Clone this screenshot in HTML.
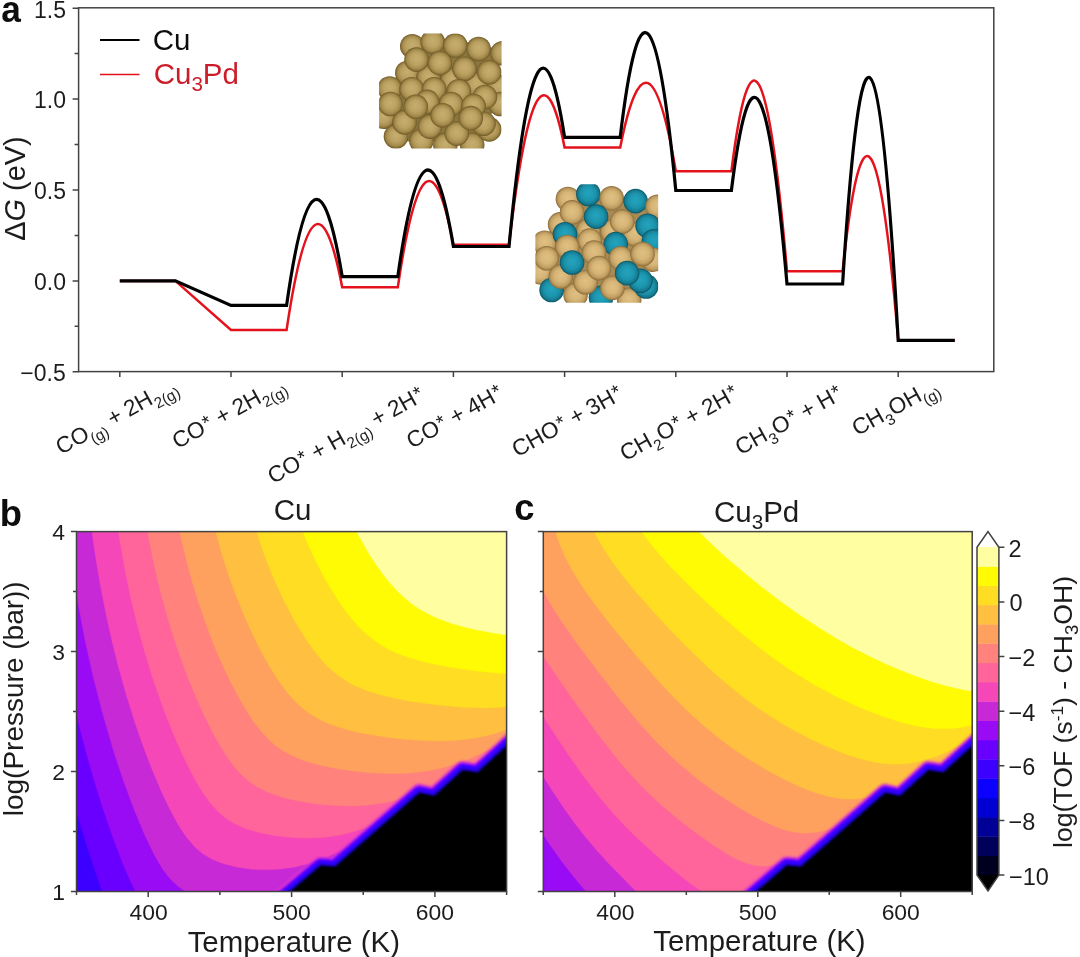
<!DOCTYPE html>
<html><head><meta charset="utf-8"><title>figure</title>
<style>html,body{margin:0;padding:0;background:#fff;overflow:hidden;}svg{display:block;font-family:"Liberation Sans", sans-serif;}</style>
</head><body>
<svg width="1080" height="957" viewBox="0 0 1080 957">
<rect width="1080" height="957" fill="#ffffff"/>
<defs>
<radialGradient id="gT1" cx="0.5" cy="0.5" r="0.5" fx="0.5" fy="0.44">
<stop offset="0" stop-color="#c6ae70"/><stop offset="0.5" stop-color="#bba262"/><stop offset="0.78" stop-color="#a58c4e"/><stop offset="0.92" stop-color="#866f35"/><stop offset="1" stop-color="#6b5625"/>
</radialGradient>
<radialGradient id="gT2" cx="0.5" cy="0.5" r="0.5" fx="0.5" fy="0.44">
<stop offset="0" stop-color="#e0c083"/><stop offset="0.5" stop-color="#d6b577"/><stop offset="0.8" stop-color="#c09e62"/><stop offset="0.93" stop-color="#a07f48"/><stop offset="1" stop-color="#866836"/>
</radialGradient>
<radialGradient id="gB" cx="0.5" cy="0.5" r="0.5" fx="0.5" fy="0.44">
<stop offset="0" stop-color="#25a3bd"/><stop offset="0.55" stop-color="#1d96af"/><stop offset="0.82" stop-color="#177f95"/><stop offset="0.94" stop-color="#0f6577"/><stop offset="1" stop-color="#0b5160"/>
</radialGradient>
<clipPath id="ci1"><rect x="379.1" y="33.5" width="122.5" height="115"/></clipPath>
<clipPath id="ci2"><rect x="535.4" y="184.2" width="122.8" height="118.5"/></clipPath>
<filter id="soft" x="-5%" y="-5%" width="110%" height="110%"><feGaussianBlur stdDeviation="0.45"/></filter>
<filter id="soft2" x="-2%" y="-2%" width="104%" height="104%"><feGaussianBlur stdDeviation="0.9"/></filter>
<filter id="tblur" x="0" y="0" width="1080" height="957" filterUnits="userSpaceOnUse"><feGaussianBlur stdDeviation="0.4"/></filter>
</defs>

<g id="panelA">
<g clip-path="url(#ci1)" filter="url(#soft)">
<path d="M406.2,51.1 L415.3,40.7 L433.3,37.0 L453.2,40.1 L473.6,43.2 L493.9,48.0 L493.9,112.0 L489.8,115.1 L492.3,125.6 L483.6,135.6 L478.6,141.5 L392.3,141.5 L390.4,130.6 L386.1,121.9 L386.1,79.7 L395.4,77.9 L402.0,69.7 L406.2,62.3 Z" fill="#8c763f"/>
<circle cx="412.3" cy="46.2" r="12.3" fill="url(#gT1)"/>
<circle cx="432.7" cy="41.9" r="12.3" fill="url(#gT1)"/>
<circle cx="455.3" cy="45.5" r="12.3" fill="url(#gT1)"/>
<circle cx="478.6" cy="49.0" r="12.3" fill="url(#gT1)"/>
<circle cx="502.6" cy="53.2" r="12.3" fill="url(#gT1)"/>
<circle cx="407.3" cy="73.0" r="12.3" fill="url(#gT1)"/>
<circle cx="428.5" cy="77.2" r="12.3" fill="url(#gT1)"/>
<circle cx="452.5" cy="80.0" r="12.3" fill="url(#gT1)"/>
<circle cx="476.5" cy="84.3" r="12.3" fill="url(#gT1)"/>
<circle cx="499.0" cy="87.1" r="12.3" fill="url(#gT1)"/>
<circle cx="416.5" cy="59.6" r="12.3" fill="url(#gT1)"/>
<circle cx="439.8" cy="63.1" r="12.3" fill="url(#gT1)"/>
<circle cx="464.5" cy="68.7" r="12.3" fill="url(#gT1)"/>
<circle cx="489.2" cy="72.3" r="12.3" fill="url(#gT1)"/>
<circle cx="389.7" cy="88.5" r="12.3" fill="url(#gT1)"/>
<circle cx="411.6" cy="89.2" r="12.3" fill="url(#gT1)"/>
<circle cx="434.1" cy="89.2" r="12.3" fill="url(#gT1)"/>
<circle cx="458.8" cy="91.3" r="12.3" fill="url(#gT1)"/>
<circle cx="500.5" cy="104.0" r="12.3" fill="url(#gT1)"/>
<circle cx="484.9" cy="97.0" r="12.3" fill="url(#gT1)"/>
<circle cx="383.3" cy="116.7" r="12.3" fill="url(#gT1)"/>
<circle cx="390.4" cy="104.0" r="12.3" fill="url(#gT1)"/>
<circle cx="396.0" cy="136.5" r="12.3" fill="url(#gT1)"/>
<circle cx="421.4" cy="140.7" r="12.3" fill="url(#gT1)"/>
<circle cx="445.4" cy="144.9" r="12.3" fill="url(#gT1)"/>
<circle cx="472.2" cy="144.9" r="12.3" fill="url(#gT1)"/>
<circle cx="489.2" cy="129.4" r="12.3" fill="url(#gT1)"/>
<circle cx="404.5" cy="122.4" r="12.3" fill="url(#gT1)"/>
<circle cx="429.9" cy="126.6" r="12.3" fill="url(#gT1)"/>
<circle cx="456.7" cy="133.6" r="12.3" fill="url(#gT1)"/>
<circle cx="483.5" cy="123.8" r="12.3" fill="url(#gT1)"/>
<circle cx="451.1" cy="104.0" r="12.3" fill="url(#gT1)"/>
<circle cx="427.1" cy="101.9" r="12.3" fill="url(#gT1)"/>
<circle cx="473.6" cy="106.1" r="12.3" fill="url(#gT1)"/>
<circle cx="415.8" cy="106.8" r="12.3" fill="url(#gT1)"/>
<circle cx="442.6" cy="115.3" r="12.3" fill="url(#gT1)"/>
<circle cx="470.8" cy="118.1" r="12.3" fill="url(#gT1)"/>
</g>
<g clip-path="url(#ci2)" filter="url(#soft)">
<path d="M562.1,202.9 L571.4,192.5 L580.7,193.7 L589.4,188.0 L600.6,193.7 L609.9,191.8 L620.4,198.7 L631.0,194.2 L641.5,201.2 L650.9,202.4 L650.9,261.3 L643.4,264.4 L649.6,277.4 L640.9,289.9 L636.0,294.5 L557.1,293.8 L547.2,283.0 L542.8,275.0 L542.8,232.7 L550.9,231.0 L557.4,222.8 L563.6,216.6 Z" fill="#a88a55"/>
<circle cx="567.9" cy="199.0" r="12.3" fill="url(#gT2)"/>
<circle cx="588.3" cy="194.0" r="12.3" fill="url(#gB)"/>
<circle cx="611.6" cy="198.3" r="12.3" fill="url(#gT2)"/>
<circle cx="635.6" cy="201.1" r="12.3" fill="url(#gB)"/>
<circle cx="657.5" cy="206.7" r="12.3" fill="url(#gT2)"/>
<circle cx="560.1" cy="224.4" r="12.3" fill="url(#gT2)"/>
<circle cx="588.3" cy="230.7" r="12.3" fill="url(#gT2)"/>
<circle cx="612.3" cy="231.4" r="12.3" fill="url(#gT2)"/>
<circle cx="634.9" cy="234.3" r="12.3" fill="url(#gT2)"/>
<circle cx="572.1" cy="212.4" r="12.3" fill="url(#gT2)"/>
<circle cx="596.1" cy="216.6" r="12.3" fill="url(#gB)"/>
<circle cx="622.2" cy="221.6" r="12.3" fill="url(#gT2)"/>
<circle cx="647.6" cy="225.8" r="12.3" fill="url(#gB)"/>
<circle cx="544.6" cy="242.7" r="12.3" fill="url(#gT2)"/>
<circle cx="565.0" cy="234.3" r="12.3" fill="url(#gB)"/>
<circle cx="589.7" cy="240.6" r="12.3" fill="url(#gT2)"/>
<circle cx="615.8" cy="244.1" r="12.3" fill="url(#gB)"/>
<circle cx="653.9" cy="241.3" r="12.3" fill="url(#gB)"/>
<circle cx="567.2" cy="247.0" r="12.3" fill="url(#gT2)"/>
<circle cx="620.8" cy="258.3" r="12.3" fill="url(#gT2)"/>
<circle cx="653.2" cy="259.7" r="12.3" fill="url(#gT2)"/>
<circle cx="540.3" cy="272.4" r="12.3" fill="url(#gT2)"/>
<circle cx="546.7" cy="258.3" r="12.3" fill="url(#gT2)"/>
<circle cx="551.6" cy="290.0" r="12.3" fill="url(#gB)"/>
<circle cx="575.6" cy="294.9" r="12.3" fill="url(#gT2)"/>
<circle cx="601.0" cy="297.8" r="12.3" fill="url(#gB)"/>
<circle cx="629.2" cy="299.9" r="12.3" fill="url(#gT2)"/>
<circle cx="560.8" cy="276.6" r="12.3" fill="url(#gT2)"/>
<circle cx="585.5" cy="282.2" r="12.3" fill="url(#gT2)"/>
<circle cx="612.3" cy="287.9" r="12.3" fill="url(#gT2)"/>
<circle cx="646.2" cy="286.5" r="12.3" fill="url(#gB)"/>
<circle cx="640.5" cy="280.8" r="12.3" fill="url(#gB)"/>
<circle cx="642.6" cy="254.0" r="12.3" fill="url(#gT2)"/>
<circle cx="572.1" cy="262.5" r="12.3" fill="url(#gB)"/>
<circle cx="594.0" cy="252.6" r="12.3" fill="url(#gT2)"/>
<circle cx="598.9" cy="268.1" r="12.3" fill="url(#gT2)"/>
<circle cx="627.1" cy="273.1" r="12.3" fill="url(#gB)"/>
</g>
<path d="M119.8,280.9 L175.4,280.9 L231.0,329.9 L286.6,329.9 Q314.4,142.2 342.2,287.2 L397.8,287.2 Q425.6,98.5 453.4,244.8 L509.0,244.8 Q536.8,6.8 564.6,147.4 L620.2,147.4 Q648.0,7.0 675.8,171.3 L731.4,171.3 Q759.2,-50.9 787.0,271.3 L842.6,271.3 Q870.4,10.4 898.2,340.4 L954.8,340.4" fill="none" stroke="#e3121c" stroke-width="2.50" stroke-linejoin="miter" stroke-linecap="butt"/>
<path d="M119.8,280.9 L175.4,280.9 L231.0,305.4 L286.6,305.4 Q314.4,108.9 342.2,276.6 L397.8,276.6 Q425.6,79.7 453.4,246.5 L509.0,246.5 Q536.8,-42.8 564.6,137.3 L620.2,137.3 Q648.0,-96.0 675.8,190.5 L731.4,190.5 Q759.2,-34.6 787.0,284.0 L842.6,284.0 Q870.4,-155.7 898.2,340.4 L954.8,340.4" fill="none" stroke="#000000" stroke-width="3.20" stroke-linejoin="miter" stroke-linecap="butt"/>
<rect x="78.6" y="7.8" width="915.2" height="363.8" fill="none" stroke="#424242" stroke-width="1.5"/>
<path d="M78.6,8.2h-6M78.6,99.1h-6M78.6,190.0h-6M78.6,280.9h-6M78.6,371.8h-6M78.6,53.6h-4M78.6,144.5h-4M78.6,235.4h-4M78.6,326.3h-4M119.8,371.6v5.5M231.0,371.6v5.5M342.2,371.6v5.5M453.4,371.6v5.5M564.6,371.6v5.5M675.8,371.6v5.5M787.0,371.6v5.5M898.2,371.6v5.5" stroke="#424242" stroke-width="1.5" fill="none"/>
<path d="M100,40h39.5" stroke="#000" stroke-width="2"/>
<path d="M100,74.5h39.5" stroke="#e3121c" stroke-width="1.6"/>
</g>
<g id="panelB">
<clipPath id="clippanelB"><rect x="76.5" y="531.6" width="430.1" height="359.9"/></clipPath>
<g clip-path="url(#clippanelB)">
<rect x="73.5" y="528.6" width="436.1" height="365.9" fill="#0000d2"/>
<path d="M73.5,528.6 509.6,528.6 509.6,740.8 508.6,741.8 507.6,741.8 505.6,743.8 504.6,743.8 502.6,745.8 501.6,745.8 498.6,748.7 497.6,748.8 495.6,750.8 494.6,750.8 492.6,752.8 491.6,752.8 489.6,754.8 488.6,754.8 486.6,756.8 485.6,756.8 482.6,759.7 481.6,759.8 479.6,761.8 478.6,761.8 476.6,763.8 475.6,763.8 473.6,765.8 472.6,765.8 469.6,768.7 468.6,768.8 466.6,770.7 465.6,770.8 463.6,772.8 462.6,772.8 460.6,774.8 459.6,774.8 457.6,776.8 456.6,776.8 453.6,779.7 452.6,779.8 450.6,781.7 449.6,781.8 447.6,783.7 446.6,783.8 444.6,785.7 443.6,785.8 440.6,788.7 439.6,788.8 437.6,790.7 436.6,790.8 434.6,792.7 433.6,792.8 431.6,794.7 430.6,794.8 427.6,797.7 426.6,797.8 424.6,799.7 423.6,799.8 421.6,801.7 420.6,801.8 418.6,803.7 417.6,803.8 415.6,805.7 414.6,805.7 411.6,808.7 410.6,808.7 408.6,810.7 407.6,810.7 405.6,812.7 404.6,812.7 402.6,814.7 401.6,814.7 398.6,817.7 397.6,817.7 395.6,819.7 394.6,819.7 392.6,821.7 391.6,821.7 389.6,823.7 388.6,823.7 386.6,825.7 385.6,825.7 382.6,828.7 381.6,828.7 379.6,830.7 378.6,830.7 376.6,832.7 375.6,832.7 373.6,834.7 372.6,834.7 369.6,837.6 368.6,837.7 366.6,839.7 365.6,839.7 363.6,841.7 362.6,841.7 360.6,843.7 359.6,843.7 356.6,846.6 355.6,846.7 353.6,848.6 352.6,848.7 350.6,850.6 349.6,850.7 347.6,852.7 346.6,852.7 344.6,854.7 343.6,854.7 340.6,857.6 339.6,857.7 337.6,859.6 336.6,859.7 334.6,861.6 333.6,861.7 331.6,863.6 330.6,863.7 327.6,866.6 326.6,866.7 324.6,868.6 323.6,868.7 321.6,870.6 320.6,870.7 318.6,872.6 317.6,872.7 315.6,874.6 313.6,875.6 311.6,877.6 310.6,877.6 308.6,879.6 307.6,879.6 305.6,881.6 304.6,881.6 302.6,883.6 301.6,883.6 298.6,886.6 297.6,886.6 295.6,888.6 294.6,888.6 292.6,890.6 291.6,890.6 289.5,892.6 288.5,892.6 286.6,894.5 73.5,894.5Z" fill="#0c00ff" stroke="#0c00ff" stroke-width="0.4"/>
<path d="M73.5,528.6 509.6,528.6 509.6,740.8 508.6,741.7 507.6,741.8 505.6,743.8 504.6,743.8 502.6,745.8 501.6,745.8 498.6,748.7 497.6,748.8 495.6,750.7 494.6,750.8 492.6,752.7 491.6,752.8 489.6,754.7 488.6,754.8 486.6,756.7 485.6,756.8 482.6,759.7 481.6,759.8 479.6,761.7 478.6,761.8 476.6,763.7 475.6,763.8 473.6,765.7 472.6,765.8 469.6,768.7 468.6,768.7 466.6,770.7 465.6,770.7 463.6,772.7 462.6,772.7 460.6,774.7 459.6,774.7 457.6,776.7 456.6,776.7 453.6,779.7 452.6,779.7 450.6,781.7 449.6,781.7 447.6,783.7 446.6,783.7 444.6,785.7 443.6,785.7 440.6,788.7 439.6,788.7 437.6,790.7 436.6,790.7 434.6,792.7 433.6,792.7 431.6,794.7 430.6,794.7 427.6,797.6 426.6,797.7 424.6,799.7 423.6,799.7 421.6,801.7 420.6,801.7 418.6,803.7 417.6,803.7 415.6,805.7 414.6,805.7 411.6,808.6 410.6,808.7 408.6,810.7 407.6,810.7 405.6,812.7 404.6,812.7 402.6,814.7 401.6,814.7 398.6,817.6 397.6,817.7 395.6,819.6 394.6,819.7 392.6,821.6 391.6,821.7 389.6,823.6 388.6,823.7 386.6,825.7 385.6,825.7 382.6,828.6 381.6,828.7 379.6,830.6 378.6,830.7 376.6,832.6 375.6,832.7 373.6,834.6 372.6,834.7 369.6,837.6 368.6,837.7 366.6,839.6 365.6,839.7 363.6,841.6 362.6,841.7 360.6,843.6 359.6,843.7 356.6,846.5 355.6,846.6 353.6,848.6 352.6,848.6 350.6,850.6 349.6,850.6 347.6,852.6 346.6,852.6 344.6,854.6 343.6,854.6 340.6,857.6 339.6,857.6 337.6,859.6 336.6,859.6 334.6,861.6 333.6,861.6 331.6,863.6 330.6,863.6 327.6,866.5 326.6,866.6 324.6,868.6 323.6,868.6 321.6,870.6 320.6,870.6 318.6,872.6 317.6,872.6 315.6,874.6 313.6,875.6 311.6,877.5 310.6,877.6 308.6,879.5 307.6,879.6 305.6,881.6 304.6,881.6 302.6,883.6 301.6,883.6 298.5,886.5 297.6,886.6 295.6,888.5 294.6,888.6 292.6,890.5 291.6,890.6 289.5,892.5 288.5,892.6 286.6,894.5 75.2,894.5 73.5,888.9Z" fill="#3b00ff" stroke="#3b00ff" stroke-width="0.4"/>
<path d="M73.5,528.6 509.6,528.6 509.6,740.7 508.6,741.7 507.6,741.7 505.6,743.7 504.6,743.7 502.6,745.7 501.6,745.7 498.6,748.6 497.6,748.7 495.6,750.7 494.6,750.7 492.6,752.7 491.6,752.7 489.6,754.7 488.6,754.7 486.6,756.7 485.6,756.7 482.6,759.7 481.6,759.7 479.6,761.7 478.6,761.7 476.6,763.7 475.6,763.7 473.6,765.7 472.6,765.7 469.6,768.6 468.6,768.7 466.6,770.7 465.6,770.7 463.6,772.7 462.6,772.7 460.6,774.7 459.6,774.7 457.6,776.7 456.6,776.7 453.6,779.6 452.6,779.7 450.6,781.7 449.6,781.7 447.6,783.7 446.6,783.7 444.6,785.7 443.6,785.7 440.6,788.6 439.6,788.7 437.6,790.6 436.6,790.7 434.6,792.6 433.6,792.7 431.6,794.6 430.6,794.7 427.6,797.6 426.6,797.7 424.6,799.6 423.6,799.7 421.6,801.6 420.6,801.7 418.6,803.6 417.6,803.7 415.6,805.6 414.6,805.7 411.6,808.6 410.6,808.7 408.6,810.6 407.6,810.7 405.6,812.6 404.6,812.7 402.6,814.6 401.6,814.7 398.6,817.6 397.6,817.6 395.6,819.6 394.6,819.6 392.6,821.6 391.6,821.6 389.6,823.6 388.6,823.6 386.6,825.6 385.6,825.6 382.6,828.6 381.6,828.6 379.6,830.6 378.6,830.6 376.6,832.6 375.6,832.6 373.6,834.6 372.6,834.6 369.6,837.5 368.6,837.6 366.6,839.6 365.6,839.6 363.6,841.6 362.6,841.6 360.6,843.6 359.6,843.6 357.6,845.6 356.3,846.5 355.6,846.6 353.6,848.5 352.6,848.6 350.6,850.5 349.6,850.6 347.6,852.6 346.6,852.6 344.6,854.6 343.6,854.6 340.5,857.5 339.6,857.6 337.6,859.5 336.6,859.6 334.6,861.5 333.6,861.6 331.6,863.5 330.6,863.6 328.6,865.5 326.6,866.6 324.5,868.5 323.6,868.6 321.6,870.5 320.6,870.6 318.6,872.5 317.6,872.6 315.6,874.5 314.6,874.8 311.2,877.5 310.6,877.5 308.4,879.5 307.6,879.5 305.6,881.5 304.6,881.5 302.6,883.5 301.6,883.5 299.6,885.5 297.6,886.5 295.1,888.5 294.6,888.5 292.2,890.5 291.6,890.5 289.3,892.5 288.5,892.5 286.4,894.5 103.5,894.5 96.3,874.5 88.5,851.1 80.6,825.5 73.5,800.5Z" fill="#6900ff" stroke="#6900ff" stroke-width="0.4"/>
<path d="M73.5,528.6 509.6,528.6 509.6,740.7 508.6,741.7 507.6,741.7 505.6,743.7 504.6,743.7 502.6,745.7 501.6,745.7 498.6,748.6 497.6,748.7 495.6,750.6 494.6,750.7 492.6,752.7 491.6,752.7 489.6,754.7 488.6,754.7 486.6,756.7 485.6,756.7 482.6,759.6 481.6,759.7 479.6,761.6 478.6,761.7 476.6,763.6 475.6,763.7 473.6,765.6 472.6,765.7 469.6,768.6 468.6,768.7 466.6,770.6 465.6,770.7 463.6,772.6 462.6,772.7 460.6,774.6 459.6,774.7 457.6,776.6 456.6,776.7 453.6,779.6 452.6,779.7 450.6,781.6 449.6,781.7 447.6,783.6 446.6,783.7 444.6,785.6 443.6,785.6 440.6,788.6 439.6,788.6 437.6,790.6 436.6,790.6 434.6,792.6 433.6,792.6 431.6,794.6 430.6,794.6 427.5,797.5 426.6,797.6 424.6,799.6 423.6,799.6 421.6,801.6 420.6,801.6 418.6,803.6 417.6,803.6 415.6,805.6 414.6,805.6 411.6,808.5 410.6,808.6 408.6,810.6 407.6,810.6 405.6,812.6 404.6,812.6 402.6,814.6 401.6,814.6 399.6,816.6 398.4,817.5 397.6,817.6 395.6,819.5 394.6,819.6 392.6,821.6 391.6,821.6 389.6,823.6 388.6,823.6 386.6,825.6 385.6,825.6 382.5,828.5 381.6,828.6 379.6,830.5 378.6,830.6 376.6,832.5 375.6,832.6 373.6,834.5 372.6,834.6 370.6,836.5 368.6,837.6 366.5,839.5 365.6,839.6 363.6,841.5 362.6,841.6 360.6,843.5 359.6,843.6 357.6,845.5 355.6,846.6 353.2,848.5 352.6,848.6 350.4,850.5 349.6,850.5 347.5,852.5 346.6,852.5 344.6,854.5 343.6,854.5 341.6,856.5 336.6,859.5 334.1,861.5 333.6,861.5 331.2,863.5 330.6,863.5 328.3,865.5 319.4,871.5 284.0,894.5 137.0,894.5 129.5,879.2 121.5,860.3 112.5,836.5 103.6,810.5 95.5,785.0 87.5,757.3 80.4,730.5 73.5,701.9Z" fill="#980bf4" stroke="#980bf4" stroke-width="0.4"/>
<path d="M73.5,528.6 509.6,528.6 509.6,740.7 508.6,741.6 507.6,741.7 505.6,743.6 504.6,743.7 502.6,745.6 501.6,745.7 498.6,748.5 497.6,748.7 495.6,750.6 494.6,750.7 492.6,752.6 491.6,752.7 489.6,754.6 488.6,754.6 486.6,756.6 485.6,756.6 482.6,759.6 481.6,759.6 479.6,761.6 478.6,761.6 476.6,763.6 475.6,763.6 473.6,765.6 472.6,765.6 469.6,768.5 468.6,768.6 466.6,770.6 465.6,770.6 463.6,772.6 462.6,772.6 460.6,774.6 459.6,774.6 457.6,776.6 456.6,776.6 453.6,779.6 452.6,779.6 450.6,781.6 449.6,781.6 447.6,783.6 446.6,783.6 444.6,785.6 443.6,785.6 440.5,788.5 439.6,788.6 437.6,790.5 436.6,790.6 434.6,792.6 433.6,792.6 431.6,794.6 430.6,794.6 428.6,796.6 426.6,797.6 424.5,799.5 423.6,799.6 421.6,801.5 420.6,801.6 418.6,803.5 417.6,803.6 415.6,805.5 414.6,805.6 412.6,807.6 410.6,808.6 408.5,810.5 407.6,810.6 405.6,812.5 404.6,812.6 402.6,814.5 401.6,814.6 399.6,816.5 397.6,817.6 395.1,819.5 394.6,819.6 392.3,821.5 391.6,821.6 389.4,823.5 388.6,823.6 386.5,825.5 385.6,825.5 383.6,827.5 375.6,832.5 373.1,834.5 372.6,834.5 370.1,836.5 350.6,849.5 333.6,860.5 315.4,871.5 302.9,878.5 291.1,884.5 277.5,890.4 266.2,894.5 192.0,894.5 188.5,893.0 183.5,890.2 178.5,886.8 170.5,879.3 162.5,868.9 154.5,855.3 144.5,834.6 134.1,809.5 123.5,780.9 113.5,750.7 103.2,715.5 93.6,678.6 85.3,641.6 77.9,602.6 73.5,575.9Z" fill="#c729d6" stroke="#c729d6" stroke-width="0.4"/>
<path d="M91.5,528.6 509.6,528.6 509.6,740.6 508.6,741.6 507.6,741.6 505.6,743.6 504.6,743.6 502.6,745.6 501.6,745.6 499.6,747.6 497.6,748.6 495.6,750.6 494.6,750.6 492.6,752.6 491.6,752.6 489.6,754.6 488.6,754.6 486.6,756.6 485.6,756.6 482.5,759.5 481.6,759.6 479.6,761.6 478.6,761.6 476.6,763.6 475.6,763.6 473.6,765.6 472.6,765.6 470.6,767.6 468.6,768.6 466.5,770.5 465.6,770.6 463.6,772.5 462.6,772.6 460.6,774.5 459.6,774.6 457.6,776.6 456.6,776.6 454.6,778.6 452.6,779.6 450.4,781.5 449.6,781.6 447.6,783.5 446.6,783.6 444.6,785.5 443.6,785.6 441.6,787.5 436.6,790.6 434.2,792.5 433.6,792.6 431.3,794.5 430.6,794.6 428.4,796.5 427.6,796.7 422.5,800.5 384.6,825.5 366.7,836.5 350.9,845.5 337.1,852.5 323.6,858.4 308.9,863.5 295.6,866.9 281.5,869.0 266.5,869.8 251.5,869.2 236.5,867.0 222.8,863.5 211.5,858.9 202.5,853.5 194.4,846.5 186.7,837.5 179.3,826.5 170.5,810.6 161.5,791.7 152.1,769.5 142.9,745.5 134.5,721.2 126.5,695.6 118.9,668.6 112.1,641.6 105.9,613.6 100.4,585.6 95.5,556.6Z" fill="#f647b8" stroke="#f647b8" stroke-width="0.4"/>
<path d="M118.0,528.6 509.6,528.6 509.6,740.6 508.5,741.5 507.6,741.6 505.6,743.5 504.6,743.6 502.6,745.6 501.6,745.6 499.6,747.6 498.6,747.9 495.2,750.5 494.6,750.6 492.3,752.5 491.6,752.6 489.5,754.5 488.6,754.6 486.6,756.5 485.6,756.6 483.6,758.5 478.6,761.6 476.1,763.5 475.6,763.6 473.2,765.5 472.6,765.6 470.3,767.5 455.4,777.5 435.5,790.5 414.5,803.5 398.7,812.5 382.9,820.5 368.9,826.5 355.6,831.1 340.6,834.9 325.6,837.2 309.6,838.1 293.6,837.7 275.5,835.8 259.5,832.7 245.5,828.5 234.3,823.5 225.5,818.0 217.5,811.1 210.0,802.5 202.5,792.0 194.5,778.5 185.5,761.0 176.5,741.3 167.6,719.5 159.4,697.6 151.5,674.3 144.3,650.6 137.5,625.6 131.2,599.6 125.5,572.6 119.5,538.6Z" fill="#ff659a" stroke="#ff659a" stroke-width="0.4"/>
<path d="M147.0,528.6 509.6,528.6 509.6,740.2 492.6,751.5 470.6,765.5 453.8,775.5 437.0,784.5 424.2,790.5 411.6,795.5 398.6,799.7 384.6,802.9 368.6,805.1 352.6,806.0 334.6,805.6 316.6,804.0 298.6,801.1 282.5,797.4 268.5,792.6 257.5,787.1 249.2,781.5 241.5,774.7 234.5,766.9 227.5,757.4 219.5,744.7 211.5,730.2 203.3,713.5 194.9,694.6 186.8,674.6 179.5,654.9 172.7,634.6 166.4,613.6 160.2,590.6 154.5,566.6 148.5,537.0Z" fill="#ff837c" stroke="#ff837c" stroke-width="0.4"/>
<path d="M179.1,528.6 509.6,528.6 509.6,737.8 494.4,746.5 480.7,753.5 469.6,758.6 456.6,763.5 444.6,767.2 432.6,770.0 419.6,772.0 406.6,773.2 389.6,773.6 371.6,772.8 352.6,770.9 333.6,768.0 317.6,764.6 304.0,760.5 292.6,755.9 282.5,750.5 274.5,744.7 267.7,738.5 261.4,731.5 254.4,722.5 247.1,711.5 239.5,698.8 232.0,684.6 224.7,669.6 217.5,653.3 210.5,636.1 204.1,618.6 198.0,600.6 192.2,581.6 186.8,561.6 180.8,536.6Z" fill="#ffa15e" stroke="#ffa15e" stroke-width="0.4"/>
<path d="M214.9,528.6 509.6,528.6 509.6,728.6 498.6,732.4 487.6,735.4 476.6,737.7 464.6,739.5 452.6,740.5 439.6,740.9 425.6,740.6 411.6,739.8 394.6,738.2 377.6,735.8 362.6,733.2 348.6,730.0 336.9,726.5 326.6,722.7 317.6,718.3 309.7,713.5 303.1,708.6 296.6,702.6 290.5,696.2 284.3,688.6 277.5,679.0 270.9,668.6 264.5,657.6 257.6,644.6 244.5,616.6 232.7,586.6 226.8,569.6 221.5,552.6Z" fill="#ffbf40" stroke="#ffbf40" stroke-width="0.4"/>
<path d="M255.5,528.6 509.6,528.6 509.6,706.7 487.6,707.9 463.6,707.3 435.6,704.8 408.6,700.9 386.6,696.4 368.6,691.2 360.6,688.1 353.6,684.9 346.6,681.1 340.6,677.1 334.6,672.6 328.9,667.6 323.6,662.1 317.9,655.6 306.6,640.2 295.1,621.6 283.5,599.8 272.9,576.6 263.1,551.6Z" fill="#ffdd22" stroke="#ffdd22" stroke-width="0.4"/>
<path d="M301.6,528.6 509.6,528.6 509.6,673.9 487.6,672.2 465.6,669.6 444.6,666.2 425.6,662.2 410.6,658.1 397.6,653.4 386.6,648.2 375.8,641.6 365.8,633.6 356.6,624.4 346.8,612.6 337.6,599.5 327.7,583.6 318.5,566.6 309.5,547.6Z" fill="#fffb04" stroke="#fffb04" stroke-width="0.4"/>
<path d="M355.0,528.6 509.6,528.6 509.6,635.5 492.6,632.8 477.6,630.0 464.6,627.0 452.4,623.6 441.6,619.8 431.6,615.6 422.6,610.8 414.6,605.7 406.6,599.6 398.9,592.6 391.4,584.6 383.6,574.9 375.6,563.8 367.6,551.3Z" fill="#ffffa1" stroke="#ffffa1" stroke-width="0.4"/>
</g>
<g clip-path="url(#clippanelB)"><g fill="none" stroke-linejoin="round" filter="url(#soft2)">
<path d="M274.8,904.5 L284.8,896.0 L320.7,865.4 L334.9,866.7 L419.3,792.9 L434.2,796.0 L462.7,770.1 L477.6,772.5 L506.6,745.9 L516.6,736.7" stroke="#f647b8" stroke-width="19.6" stroke-opacity="0.50"/>
<path d="M274.8,904.5 L284.8,896.0 L320.7,865.4 L334.9,866.7 L419.3,792.9 L434.2,796.0 L462.7,770.1 L477.6,772.5 L506.6,745.9 L516.6,736.7" stroke="#c729d6" stroke-width="17.0" stroke-opacity="0.85"/>
<path d="M274.8,904.5 L284.8,896.0 L320.7,865.4 L334.9,866.7 L419.3,792.9 L434.2,796.0 L462.7,770.1 L477.6,772.5 L506.6,745.9 L516.6,736.7" stroke="#980bf4" stroke-width="15.0" stroke-opacity="1.00"/>
<path d="M274.8,904.5 L284.8,896.0 L320.7,865.4 L334.9,866.7 L419.3,792.9 L434.2,796.0 L462.7,770.1 L477.6,772.5 L506.6,745.9 L516.6,736.7" stroke="#6900ff" stroke-width="13.0" stroke-opacity="1.00"/>
<path d="M274.8,904.5 L284.8,896.0 L320.7,865.4 L334.9,866.7 L419.3,792.9 L434.2,796.0 L462.7,770.1 L477.6,772.5 L506.6,745.9 L516.6,736.7" stroke="#3000ff" stroke-width="11.0" stroke-opacity="1.00"/>
<path d="M274.8,904.5 L284.8,896.0 L320.7,865.4 L334.9,866.7 L419.3,792.9 L434.2,796.0 L462.7,770.1 L477.6,772.5 L506.6,745.9 L516.6,736.7" stroke="#0a0080" stroke-width="2.4" stroke-opacity="1.00"/>
<path d="M274.8,904.5 L284.8,896.0 L320.7,865.4 L334.9,866.7 L419.3,792.9 L434.2,796.0 L462.7,770.1 L477.6,772.5 L506.6,745.9 L516.6,736.7 L518.6,903.5 L274.8,903.5 Z" fill="#000" stroke="#000" stroke-width="1.0" stroke-linejoin="round"/>
</g></g>
<rect x="76.5" y="531.6" width="430.1" height="359.9" fill="none" stroke="#424242" stroke-width="1.5"/>
<path d="M76.5,891.5v3.5M148.2,891.5v5.5M219.9,891.5v3.5M291.6,891.5v5.5M363.2,891.5v3.5M434.9,891.5v5.5M506.6,891.5v3.5M76.5,531.6h-5.5M76.5,591.6h-3.5M76.5,651.6h-5.5M76.5,711.5h-3.5M76.5,771.5h-5.5M76.5,831.5h-3.5M76.5,891.5h-5.5" stroke="#424242" stroke-width="1.5" fill="none"/>
</g>
<g id="panelC">
<clipPath id="clippanelC"><rect x="543.3" y="531.6" width="428.9" height="359.9"/></clipPath>
<g clip-path="url(#clippanelC)">
<rect x="540.3" y="528.6" width="434.9" height="365.9" fill="#3b00ff"/>
<path d="M540.3,528.6 975.2,528.6 975.2,740.8 974.2,741.8 973.2,741.8 971.2,743.8 970.2,743.8 968.2,745.8 967.2,745.8 964.2,748.7 963.2,748.8 961.2,750.7 960.2,750.8 958.2,752.8 957.2,752.8 955.3,754.8 954.3,754.8 952.3,756.8 951.3,756.8 948.3,759.7 947.3,759.8 945.3,761.7 944.3,761.8 942.3,763.7 941.3,763.8 939.3,765.8 938.3,765.8 935.3,768.7 934.3,768.8 932.3,770.7 931.3,770.8 929.3,772.7 928.3,772.8 926.3,774.7 925.3,774.8 923.3,776.7 922.3,776.8 919.3,779.7 918.3,779.8 916.3,781.7 915.4,781.8 913.4,783.7 912.4,783.8 910.4,785.7 909.4,785.8 906.4,788.7 905.4,788.7 903.4,790.7 902.4,790.7 900.4,792.7 899.4,792.7 897.4,794.7 896.4,794.7 893.4,797.6 892.4,797.7 890.4,799.7 889.4,799.7 887.4,801.7 886.4,801.7 884.4,803.7 883.4,803.7 881.4,805.7 880.4,805.7 877.4,808.7 876.4,808.7 874.5,810.7 873.5,810.7 871.5,812.7 870.5,812.7 868.5,814.7 867.5,814.7 864.5,817.6 863.5,817.7 861.5,819.7 860.5,819.7 858.5,821.7 857.5,821.7 855.5,823.7 854.5,823.7 852.5,825.7 851.5,825.7 848.5,828.7 847.5,828.7 845.5,830.7 844.5,830.7 842.5,832.7 841.5,832.7 839.5,834.7 838.5,834.7 835.6,837.6 834.6,837.7 832.6,839.6 831.6,839.7 829.6,841.7 828.6,841.7 826.6,843.7 825.6,843.7 822.6,846.6 821.6,846.7 819.6,848.6 818.6,848.7 816.6,850.6 815.6,850.7 813.6,852.6 812.6,852.7 810.6,854.7 809.6,854.7 806.6,857.6 805.6,857.7 803.6,859.6 802.6,859.7 800.6,861.6 799.6,861.7 797.6,863.6 796.7,863.7 793.7,866.6 792.7,866.7 790.7,868.6 789.7,868.7 787.7,870.6 786.7,870.7 784.7,872.6 783.7,872.7 781.7,874.6 780.5,875.5 779.7,875.6 777.7,877.6 776.7,877.6 774.7,879.6 773.7,879.6 771.7,881.6 770.7,881.6 768.7,883.6 767.7,883.6 764.7,886.6 763.7,886.6 761.7,888.6 760.7,888.6 758.7,890.6 757.8,890.6 755.8,892.6 754.8,892.6 752.9,894.5 540.3,894.5Z" fill="#6900ff" stroke="#6900ff" stroke-width="0.4"/>
<path d="M540.3,528.6 975.2,528.6 975.2,740.8 974.2,741.7 973.2,741.8 971.2,743.7 970.2,743.8 968.2,745.7 967.2,745.8 964.2,748.6 963.2,748.8 961.2,750.7 960.2,750.8 958.2,752.7 957.2,752.8 955.3,754.7 954.3,754.8 952.3,756.7 951.3,756.7 948.3,759.7 947.3,759.7 945.3,761.7 944.3,761.7 942.3,763.7 941.3,763.7 939.3,765.7 938.3,765.7 935.3,768.7 934.3,768.7 932.3,770.7 931.3,770.7 929.3,772.7 928.3,772.7 926.3,774.7 925.3,774.7 923.3,776.7 922.3,776.7 919.3,779.7 918.3,779.7 916.3,781.7 915.4,781.7 913.4,783.7 912.4,783.7 910.4,785.7 909.4,785.7 906.4,788.6 905.4,788.7 903.4,790.7 902.4,790.7 900.4,792.7 899.4,792.7 897.4,794.7 896.4,794.7 893.4,797.6 892.4,797.7 890.4,799.6 889.4,799.7 887.4,801.7 886.4,801.7 884.4,803.7 883.4,803.7 881.4,805.7 880.4,805.7 877.4,808.6 876.4,808.7 874.5,810.6 873.5,810.7 871.5,812.7 870.5,812.7 868.5,814.7 867.5,814.7 864.5,817.6 863.5,817.7 861.5,819.6 860.5,819.7 858.5,821.6 857.5,821.7 855.5,823.6 854.5,823.7 852.5,825.6 851.5,825.7 848.5,828.6 847.5,828.7 845.5,830.6 844.5,830.7 842.5,832.6 841.5,832.7 839.5,834.6 838.5,834.7 835.6,837.6 834.6,837.7 832.6,839.6 831.6,839.7 829.6,841.6 828.6,841.6 826.6,843.6 825.6,843.6 822.6,846.5 821.6,846.6 819.6,848.6 818.6,848.6 816.6,850.6 815.6,850.6 813.6,852.6 812.6,852.6 810.6,854.6 809.6,854.6 806.6,857.6 805.6,857.6 803.6,859.6 802.6,859.6 800.6,861.6 799.6,861.6 797.6,863.6 796.7,863.6 793.7,866.5 792.7,866.6 790.7,868.6 789.7,868.6 787.7,870.6 786.7,870.6 784.7,872.6 783.7,872.6 781.7,874.6 779.7,875.6 777.7,877.5 776.7,877.6 774.7,879.6 773.7,879.6 771.7,881.6 770.7,881.6 768.7,883.6 767.7,883.6 764.7,886.5 763.7,886.6 761.7,888.5 760.7,888.6 758.7,890.5 757.8,890.6 755.8,892.6 754.8,892.6 752.8,894.5 547.2,894.5 540.3,884.8Z" fill="#980bf4" stroke="#980bf4" stroke-width="0.4"/>
<path d="M540.3,528.6 975.2,528.6 975.2,740.7 974.2,741.7 973.2,741.7 971.2,743.7 970.2,743.7 968.2,745.7 967.2,745.7 964.2,748.6 963.2,748.7 961.2,750.7 960.2,750.7 958.2,752.7 957.2,752.7 955.3,754.7 954.3,754.7 952.3,756.7 951.3,756.7 948.3,759.6 947.3,759.7 945.3,761.7 944.3,761.7 942.3,763.7 941.3,763.7 939.3,765.7 938.3,765.7 935.3,768.6 934.3,768.7 932.3,770.6 931.3,770.7 929.3,772.7 928.3,772.7 926.3,774.7 925.3,774.7 923.3,776.7 922.3,776.7 919.3,779.6 918.3,779.7 916.3,781.6 915.4,781.7 913.4,783.6 912.4,783.7 910.4,785.7 909.4,785.7 906.4,788.6 905.4,788.7 903.4,790.6 902.4,790.7 900.4,792.6 899.4,792.7 897.4,794.6 896.4,794.7 893.4,797.6 892.4,797.7 890.4,799.6 889.4,799.7 887.4,801.6 886.4,801.7 884.4,803.6 883.4,803.7 881.4,805.6 880.4,805.7 877.4,808.6 876.4,808.6 874.5,810.6 873.5,810.6 871.5,812.6 870.5,812.6 868.5,814.6 867.5,814.6 864.5,817.6 863.5,817.6 861.5,819.6 860.5,819.6 858.5,821.6 857.5,821.6 855.5,823.6 854.5,823.6 852.5,825.6 851.5,825.6 848.5,828.6 847.5,828.6 845.5,830.6 844.5,830.6 842.5,832.6 841.5,832.6 839.5,834.6 838.5,834.6 835.6,837.5 834.6,837.6 832.6,839.6 831.6,839.6 829.6,841.6 828.6,841.6 826.6,843.6 825.6,843.6 823.6,845.6 822.4,846.5 821.6,846.6 819.6,848.5 818.6,848.6 816.6,850.6 815.6,850.6 813.6,852.6 812.6,852.6 810.6,854.6 809.6,854.6 806.6,857.5 805.6,857.6 803.6,859.5 802.6,859.6 800.6,861.5 799.6,861.6 797.6,863.6 796.7,863.6 794.7,865.6 793.4,866.5 792.7,866.6 790.7,868.5 789.7,868.6 787.7,870.5 786.7,870.6 784.7,872.5 783.7,872.6 781.7,874.5 779.7,875.6 777.6,877.5 776.7,877.6 774.7,879.5 773.7,879.6 771.7,881.5 770.7,881.6 768.7,883.5 767.7,883.6 765.7,885.5 763.7,886.5 761.5,888.5 760.7,888.5 758.7,890.5 757.8,890.5 755.8,892.5 754.8,892.5 752.8,894.5 588.5,894.5 574.2,877.4 562.6,862.5 551.3,846.8 540.3,830.4Z" fill="#c729d6" stroke="#c729d6" stroke-width="0.4"/>
<path d="M540.3,528.6 975.2,528.6 975.2,740.7 974.2,741.6 973.2,741.7 971.2,743.7 970.2,743.7 968.2,745.7 967.2,745.7 964.2,748.5 963.2,748.7 961.2,750.6 960.2,750.7 958.2,752.6 957.2,752.7 955.3,754.6 954.3,754.7 952.3,756.7 951.3,756.7 948.3,759.6 947.3,759.7 945.3,761.6 944.3,761.7 942.3,763.6 941.3,763.7 939.3,765.6 938.3,765.7 935.3,768.6 934.3,768.7 932.3,770.6 931.3,770.7 929.3,772.6 928.3,772.7 926.3,774.6 925.3,774.7 923.3,776.6 922.3,776.7 919.3,779.6 918.3,779.6 916.3,781.6 915.4,781.6 913.4,783.6 912.4,783.6 910.4,785.6 909.4,785.6 906.4,788.6 905.4,788.6 903.4,790.6 902.4,790.6 900.4,792.6 899.4,792.6 897.4,794.6 896.4,794.6 894.4,796.6 893.3,797.5 892.4,797.6 890.4,799.6 889.4,799.6 887.4,801.6 886.4,801.6 884.4,803.6 883.4,803.6 881.4,805.6 880.4,805.6 877.4,808.5 876.4,808.6 874.5,810.6 873.5,810.6 871.5,812.6 870.5,812.6 868.5,814.6 867.5,814.6 864.4,817.5 863.5,817.6 861.5,819.5 860.5,819.6 858.5,821.6 857.5,821.6 855.5,823.6 854.5,823.6 852.5,825.6 851.5,825.6 848.5,828.5 847.5,828.6 845.5,830.5 844.5,830.6 842.5,832.5 841.5,832.6 839.5,834.6 838.5,834.6 836.6,836.6 835.3,837.5 834.6,837.6 832.6,839.5 831.6,839.6 829.6,841.5 828.6,841.6 826.6,843.5 825.6,843.6 823.6,845.5 821.6,846.6 819.4,848.5 818.6,848.6 816.6,850.5 815.6,850.6 813.6,852.5 812.6,852.6 810.6,854.5 809.6,854.6 807.6,856.5 805.6,857.5 803.3,859.5 802.6,859.5 800.5,861.5 799.6,861.5 797.6,863.5 796.7,863.5 794.7,865.5 793.7,865.8 775.5,878.5 751.4,894.5 639.1,894.5 607.7,862.5 596.2,849.7 585.1,836.5 574.2,822.5 564.2,808.5 553.3,792.3 540.3,771.9Z" fill="#f647b8" stroke="#f647b8" stroke-width="0.4"/>
<path d="M540.3,528.6 975.2,528.6 975.2,740.6 974.2,741.6 973.2,741.7 971.2,743.6 970.2,743.7 968.2,745.6 967.2,745.6 965.2,747.6 964.0,748.5 963.2,748.6 961.2,750.6 960.2,750.6 958.2,752.6 957.2,752.6 955.3,754.6 954.3,754.6 952.3,756.6 951.3,756.6 948.3,759.6 947.3,759.6 945.3,761.6 944.3,761.6 942.3,763.6 941.3,763.6 939.3,765.6 938.3,765.6 935.3,768.5 934.3,768.6 932.3,770.6 931.3,770.6 929.3,772.6 928.3,772.6 926.3,774.6 925.3,774.6 923.3,776.6 922.3,776.6 919.3,779.5 918.3,779.6 916.3,781.6 915.4,781.6 913.4,783.6 912.4,783.6 910.4,785.6 909.4,785.6 906.3,788.5 905.4,788.6 903.4,790.5 902.4,790.6 900.4,792.6 899.4,792.6 897.4,794.6 896.4,794.6 894.4,796.6 892.4,797.6 890.4,799.5 889.4,799.6 887.4,801.5 886.4,801.6 884.4,803.5 883.4,803.6 881.4,805.5 880.4,805.6 878.4,807.6 877.1,808.5 876.4,808.6 874.4,810.5 873.5,810.6 871.5,812.5 870.5,812.6 868.5,814.5 867.5,814.6 865.5,816.5 863.5,817.6 861.1,819.5 860.5,819.6 858.3,821.5 857.5,821.6 855.5,823.5 854.5,823.6 852.5,825.5 851.5,825.6 849.5,827.5 847.5,828.5 845.1,830.5 844.5,830.5 842.2,832.5 841.5,832.5 839.3,834.5 838.5,834.5 836.4,836.5 835.6,836.8 830.6,840.5 789.7,867.5 764.7,882.5 750.8,889.6 738.4,894.5 709.0,894.5 704.9,892.7 697.5,888.5 688.9,882.5 663.0,861.3 637.1,838.0 626.1,827.1 616.1,816.6 599.8,797.5 583.2,775.8 566.2,751.4 540.3,712.1Z" fill="#ff659a" stroke="#ff659a" stroke-width="0.4"/>
<path d="M540.3,528.6 975.2,528.6 975.2,740.6 974.2,741.6 973.2,741.6 971.2,743.6 970.2,743.6 968.2,745.6 967.2,745.6 965.2,747.6 963.2,748.6 961.2,750.5 960.2,750.6 958.2,752.6 957.2,752.6 955.3,754.6 954.3,754.6 952.3,756.6 951.3,756.6 948.1,759.5 947.3,759.6 945.3,761.5 944.3,761.6 942.3,763.6 941.3,763.6 939.3,765.6 938.3,765.6 936.3,767.6 934.3,768.6 932.2,770.5 931.3,770.6 929.3,772.5 928.3,772.6 926.3,774.5 925.3,774.6 923.3,776.5 922.3,776.6 920.3,778.6 918.3,779.6 916.2,781.5 915.4,781.6 913.4,783.5 912.4,783.6 910.4,785.5 909.4,785.6 907.4,787.5 902.4,790.6 900.1,792.5 899.4,792.6 897.2,794.5 896.4,794.6 891.4,798.5 883.4,803.5 880.9,805.5 880.4,805.5 876.5,808.5 852.5,824.5 825.6,841.5 813.6,848.5 802.3,854.5 791.7,859.4 783.4,862.5 774.7,864.8 766.7,866.0 758.7,865.9 751.8,864.7 744.8,862.6 736.8,859.2 726.8,853.8 714.9,846.2 699.9,835.8 684.9,824.6 672.0,814.2 660.0,803.8 649.0,793.6 638.1,782.5 619.1,761.2 599.2,735.8 570.2,695.6 540.3,651.9Z" fill="#ff837c" stroke="#ff837c" stroke-width="0.4"/>
<path d="M540.3,528.6 975.2,528.6 975.2,740.6 974.0,741.5 973.2,741.6 971.2,743.5 970.2,743.6 968.2,745.5 967.2,745.6 965.2,747.5 964.2,747.8 957.9,752.5 957.2,752.6 955.0,754.5 954.3,754.6 952.2,756.5 951.3,756.6 949.3,758.5 941.3,763.6 938.8,765.5 938.3,765.6 935.9,767.5 921.1,777.5 882.5,802.5 867.3,811.5 856.4,817.5 846.3,822.5 836.6,826.7 826.6,830.1 817.6,832.1 808.6,833.1 800.6,833.0 792.7,831.9 783.7,829.6 774.7,826.3 764.1,821.5 753.8,816.1 741.8,809.3 717.9,794.0 696.9,778.5 677.0,761.7 659.0,744.4 641.0,724.9 621.1,701.0 597.2,670.3 576.2,642.2 561.1,620.6 549.3,602.0 540.3,585.4Z" fill="#ffa15e" stroke="#ffa15e" stroke-width="0.4"/>
<path d="M554.7,528.6 975.2,528.6 975.2,740.0 939.2,763.5 924.3,772.5 908.1,781.5 895.9,787.5 886.4,791.6 875.5,795.3 866.5,797.5 857.5,798.8 848.5,799.1 839.5,798.5 829.6,796.7 819.6,794.0 808.6,790.2 795.7,784.7 782.7,778.5 765.7,769.4 748.8,759.2 732.8,748.5 717.9,737.3 703.6,725.5 688.9,712.2 674.1,697.6 659.0,681.5 638.1,657.8 615.1,630.3 598.1,608.6 584.2,589.4 573.5,572.6 565.0,556.6 558.3,540.2Z" fill="#ffbf40" stroke="#ffbf40" stroke-width="0.4"/>
<path d="M592.7,528.6 975.2,528.6 975.2,737.0 961.7,744.5 949.7,750.5 938.3,755.5 929.8,758.5 919.3,761.5 910.4,763.2 901.4,764.1 892.4,764.2 882.4,763.4 872.5,761.8 861.5,759.1 849.5,755.4 836.6,750.6 823.6,745.1 809.6,738.5 795.7,731.2 781.7,723.2 767.7,714.5 754.7,705.6 741.3,695.6 727.8,684.6 714.9,673.4 700.9,660.5 686.9,646.8 669.0,628.4 652.0,610.1 637.1,593.2 624.1,577.5 613.6,563.6 604.8,550.6 596.6,536.6Z" fill="#ffdd22" stroke="#ffdd22" stroke-width="0.4"/>
<path d="M639.2,528.6 975.2,528.6 975.2,724.3 967.2,726.3 959.2,727.7 951.3,728.5 942.3,728.8 934.3,728.4 925.3,727.5 916.3,726.0 906.4,723.7 884.4,717.1 860.5,707.8 836.2,696.6 812.3,683.6 789.7,669.4 766.7,653.2 743.8,635.1 718.8,613.5 691.9,588.3 669.0,564.9 658.8,553.6 649.7,542.6Z" fill="#fffb04" stroke="#fffb04" stroke-width="0.4"/>
<path d="M696.2,528.6 975.2,528.6 975.2,691.5 961.2,689.2 945.3,685.5 928.3,680.4 909.4,673.6 891.4,666.3 872.5,657.6 854.5,648.4 836.9,638.6 818.6,627.3 799.6,614.8 780.7,601.2 761.7,586.8 741.8,570.6 722.8,554.3 708.9,541.3Z" fill="#ffffa1" stroke="#ffffa1" stroke-width="0.4"/>
</g>
<g clip-path="url(#clippanelC)"><g fill="none" stroke-linejoin="round" filter="url(#soft2)">
<path d="M741.1,904.5 L751.1,896.0 L786.8,865.4 L800.9,866.7 L885.1,792.9 L900.0,796.0 L928.4,770.1 L943.3,772.5 L972.2,745.9 L982.2,736.7" stroke="#f647b8" stroke-width="19.6" stroke-opacity="0.50"/>
<path d="M741.1,904.5 L751.1,896.0 L786.8,865.4 L800.9,866.7 L885.1,792.9 L900.0,796.0 L928.4,770.1 L943.3,772.5 L972.2,745.9 L982.2,736.7" stroke="#c729d6" stroke-width="17.0" stroke-opacity="0.85"/>
<path d="M741.1,904.5 L751.1,896.0 L786.8,865.4 L800.9,866.7 L885.1,792.9 L900.0,796.0 L928.4,770.1 L943.3,772.5 L972.2,745.9 L982.2,736.7" stroke="#980bf4" stroke-width="15.0" stroke-opacity="1.00"/>
<path d="M741.1,904.5 L751.1,896.0 L786.8,865.4 L800.9,866.7 L885.1,792.9 L900.0,796.0 L928.4,770.1 L943.3,772.5 L972.2,745.9 L982.2,736.7" stroke="#6900ff" stroke-width="13.0" stroke-opacity="1.00"/>
<path d="M741.1,904.5 L751.1,896.0 L786.8,865.4 L800.9,866.7 L885.1,792.9 L900.0,796.0 L928.4,770.1 L943.3,772.5 L972.2,745.9 L982.2,736.7" stroke="#3000ff" stroke-width="11.0" stroke-opacity="1.00"/>
<path d="M741.1,904.5 L751.1,896.0 L786.8,865.4 L800.9,866.7 L885.1,792.9 L900.0,796.0 L928.4,770.1 L943.3,772.5 L972.2,745.9 L982.2,736.7" stroke="#0a0080" stroke-width="2.4" stroke-opacity="1.00"/>
<path d="M741.1,904.5 L751.1,896.0 L786.8,865.4 L800.9,866.7 L885.1,792.9 L900.0,796.0 L928.4,770.1 L943.3,772.5 L972.2,745.9 L982.2,736.7 L984.2,903.5 L741.1,903.5 Z" fill="#000" stroke="#000" stroke-width="1.0" stroke-linejoin="round"/>
</g></g>
<rect x="543.3" y="531.6" width="428.9" height="359.9" fill="none" stroke="#424242" stroke-width="1.5"/>
<path d="M543.3,891.5v3.5M614.8,891.5v5.5M686.3,891.5v3.5M757.8,891.5v5.5M829.2,891.5v3.5M900.7,891.5v5.5M972.2,891.5v3.5M543.3,531.6h-5.5M543.3,591.6h-3.5M543.3,651.6h-5.5M543.3,711.5h-3.5M543.3,771.5h-5.5M543.3,831.5h-3.5M543.3,891.5h-5.5" stroke="#424242" stroke-width="1.5" fill="none"/>
</g>
<g id="cbar">
<rect x="977.0" y="855.61" width="21.9" height="19.69" fill="#00001e"/>
<rect x="977.0" y="836.32" width="21.9" height="19.69" fill="#00005a"/>
<rect x="977.0" y="817.04" width="21.9" height="19.69" fill="#000096"/>
<rect x="977.0" y="797.75" width="21.9" height="19.69" fill="#0000d2"/>
<rect x="977.0" y="778.46" width="21.9" height="19.69" fill="#0c00ff"/>
<rect x="977.0" y="759.17" width="21.9" height="19.69" fill="#3b00ff"/>
<rect x="977.0" y="739.88" width="21.9" height="19.69" fill="#6900ff"/>
<rect x="977.0" y="720.59" width="21.9" height="19.69" fill="#980bf4"/>
<rect x="977.0" y="701.31" width="21.9" height="19.69" fill="#c729d6"/>
<rect x="977.0" y="682.02" width="21.9" height="19.69" fill="#f647b8"/>
<rect x="977.0" y="662.73" width="21.9" height="19.69" fill="#ff659a"/>
<rect x="977.0" y="643.44" width="21.9" height="19.69" fill="#ff837c"/>
<rect x="977.0" y="624.15" width="21.9" height="19.69" fill="#ffa15e"/>
<rect x="977.0" y="604.86" width="21.9" height="19.69" fill="#ffbf40"/>
<rect x="977.0" y="585.58" width="21.9" height="19.69" fill="#ffdd22"/>
<rect x="977.0" y="566.29" width="21.9" height="19.69" fill="#fffb04"/>
<rect x="977.0" y="547.00" width="21.9" height="19.69" fill="#ffffa1"/>
<path d="M977.0,875.1 L988.0,891.0 L998.9,875.1 Z" fill="#000"/>
<path d="M977.0,547.2 L988.0,531.5 L998.9,547.2 L998.9,875.1 L988.0,891.0 L977.0,875.1 Z" fill="none" stroke="#424242" stroke-width="1.5" stroke-linejoin="miter"/>
<path d="M998.9,547.2h5.5M998.9,601.9h5.5M998.9,656.5h5.5M998.9,711.2h5.5M998.9,765.8h5.5M998.9,820.5h5.5M998.9,875.1h5.5" stroke="#424242" stroke-width="1.5" fill="none"/>
</g>
<g filter="url(#tblur)">
<text transform="translate(50.00,18.40)" font-size="23.00" text-anchor="middle" fill="#1e1e1e">1.5</text>
<text transform="translate(50.00,108.00)" font-size="23.00" text-anchor="middle" fill="#1e1e1e">1.0</text>
<text transform="translate(50.00,198.90)" font-size="23.00" text-anchor="middle" fill="#1e1e1e">0.5</text>
<text transform="translate(50.00,289.80)" font-size="23.00" text-anchor="middle" fill="#1e1e1e">0.0</text>
<text transform="translate(43.00,380.90)" font-size="23.00" text-anchor="middle" fill="#1e1e1e">−0.5</text>
<text transform="translate(24.80,188.50) rotate(-90.00)" font-size="28.90" text-anchor="middle" fill="#1e1e1e">Δ<tspan font-style="italic">G</tspan> (eV)</text>
<text transform="translate(11.00,22.30) scale(0.9400,1)" font-size="37.50" text-anchor="middle" fill="#111" font-weight="bold">a</text>
<text transform="translate(171.50,49.70)" font-size="29.50" text-anchor="middle" fill="#111">Cu</text>
<text transform="translate(196.30,84.30)" font-size="29.50" text-anchor="middle" fill="#cc1f2a">Cu<tspan font-size="70%" dy="0.31em">3</tspan><tspan dy="-0.217em">Pd</tspan></text>
<text transform="translate(119.75,422.50) rotate(-29.00)" font-size="22.70" text-anchor="middle" fill="#1e1e1e" word-spacing="-0.50">CO<tspan font-size="68%" dy="6.58">(g)</tspan><tspan font-size="1" dy="-6.58">&#8203;</tspan> + 2H<tspan font-size="68%" dy="6.58">2(g)</tspan><tspan font-size="1" dy="-6.58">&#8203;</tspan></text>
<text transform="translate(232.12,419.00) rotate(-29.00)" font-size="22.70" text-anchor="middle" fill="#1e1e1e" word-spacing="-0.50">CO<tspan font-size="88%" dx="0.9" dy="-2.72">*</tspan><tspan font-size="1" dx="0.9" dy="2.72">&#8203;</tspan> + 2H<tspan font-size="68%" dy="6.58">2(g)</tspan><tspan font-size="1" dy="-6.58">&#8203;</tspan></text>
<text transform="translate(349.88,441.70) rotate(-29.00)" font-size="22.70" text-anchor="middle" fill="#1e1e1e" word-spacing="-0.50">CO<tspan font-size="88%" dx="0.9" dy="-2.72">*</tspan><tspan font-size="1" dx="0.9" dy="2.72">&#8203;</tspan> + H<tspan font-size="68%" dy="6.58">2(g)</tspan><tspan font-size="1" dy="-6.58">&#8203;</tspan> + 2H<tspan font-size="88%" dx="0.9" dy="-2.72">*</tspan><tspan font-size="1" dx="0.9" dy="2.72">&#8203;</tspan></text>
<text transform="translate(458.62,423.00) rotate(-29.00)" font-size="22.70" text-anchor="middle" fill="#1e1e1e" word-spacing="-0.50">CO<tspan font-size="88%" dx="0.9" dy="-2.72">*</tspan><tspan font-size="1" dx="0.9" dy="2.72">&#8203;</tspan> + 4H<tspan font-size="88%" dx="0.9" dy="-2.72">*</tspan><tspan font-size="1" dx="0.9" dy="2.72">&#8203;</tspan></text>
<text transform="translate(571.12,427.50) rotate(-29.00)" font-size="22.70" text-anchor="middle" fill="#1e1e1e" word-spacing="-0.50">CHO<tspan font-size="88%" dx="0.9" dy="-2.72">*</tspan><tspan font-size="1" dx="0.9" dy="2.72">&#8203;</tspan> + 3H<tspan font-size="88%" dx="0.9" dy="-2.72">*</tspan><tspan font-size="1" dx="0.9" dy="2.72">&#8203;</tspan></text>
<text transform="translate(683.00,429.50) rotate(-29.00)" font-size="22.70" text-anchor="middle" fill="#1e1e1e" word-spacing="-0.50">CH<tspan font-size="68%" dy="6.58">2</tspan><tspan font-size="1" dy="-6.58">&#8203;</tspan>O<tspan font-size="88%" dx="0.9" dy="-2.72">*</tspan><tspan font-size="1" dx="0.9" dy="2.72">&#8203;</tspan> + 2H<tspan font-size="88%" dx="0.9" dy="-2.72">*</tspan><tspan font-size="1" dx="0.9" dy="2.72">&#8203;</tspan></text>
<text transform="translate(792.75,426.50) rotate(-29.00)" font-size="22.70" text-anchor="middle" fill="#1e1e1e" word-spacing="-0.50">CH<tspan font-size="68%" dy="6.58">3</tspan><tspan font-size="1" dy="-6.58">&#8203;</tspan>O<tspan font-size="88%" dx="0.9" dy="-2.72">*</tspan><tspan font-size="1" dx="0.9" dy="2.72">&#8203;</tspan> + H<tspan font-size="88%" dx="0.9" dy="-2.72">*</tspan><tspan font-size="1" dx="0.9" dy="2.72">&#8203;</tspan></text>
<text transform="translate(898.50,413.50) rotate(-29.00)" font-size="22.70" text-anchor="middle" fill="#1e1e1e" word-spacing="-0.50">CH<tspan font-size="68%" dy="6.58">3</tspan><tspan font-size="1" dy="-6.58">&#8203;</tspan>OH<tspan font-size="68%" dy="6.58">(g)</tspan><tspan font-size="1" dy="-6.58">&#8203;</tspan></text>
<text transform="translate(148.68,920.20)" font-size="22.90" text-anchor="middle" fill="#1e1e1e">400</text>
<text transform="translate(291.55,920.20)" font-size="22.90" text-anchor="middle" fill="#1e1e1e">500</text>
<text transform="translate(434.92,920.20)" font-size="22.90" text-anchor="middle" fill="#1e1e1e">600</text>
<text transform="translate(615.28,920.20)" font-size="22.90" text-anchor="middle" fill="#1e1e1e">400</text>
<text transform="translate(757.75,920.20)" font-size="22.90" text-anchor="middle" fill="#1e1e1e">500</text>
<text transform="translate(900.72,920.20)" font-size="22.90" text-anchor="middle" fill="#1e1e1e">600</text>
<text transform="translate(58.60,539.90)" font-size="22.90" text-anchor="middle" fill="#1e1e1e">4</text>
<text transform="translate(58.60,659.87)" font-size="22.90" text-anchor="middle" fill="#1e1e1e">3</text>
<text transform="translate(58.60,779.83)" font-size="22.90" text-anchor="middle" fill="#1e1e1e">2</text>
<text transform="translate(58.60,899.80)" font-size="22.90" text-anchor="middle" fill="#1e1e1e">1</text>
<text transform="translate(23.00,698.80) rotate(-90.00)" font-size="28.00" text-anchor="middle" fill="#1e1e1e">log(Pressure (bar))</text>
<text transform="translate(293.80,951.60)" font-size="29.40" text-anchor="middle" fill="#1e1e1e">Temperature (K)</text>
<text transform="translate(759.40,951.00)" font-size="29.40" text-anchor="middle" fill="#1e1e1e">Temperature (K)</text>
<text transform="translate(292.50,520.30)" font-size="29.50" text-anchor="middle" fill="#1e1e1e">Cu</text>
<text transform="translate(756.60,522.40)" font-size="29.50" text-anchor="middle" fill="#1e1e1e">Cu<tspan font-size="70%" dy="0.31em">3</tspan><tspan dy="-0.217em">Pd</tspan></text>
<text transform="translate(10.80,526.00) scale(0.9700,1)" font-size="37.50" text-anchor="middle" fill="#111" font-weight="bold">b</text>
<text transform="translate(524.30,520.30) scale(0.9700,1)" font-size="37.50" text-anchor="middle" fill="#111" font-weight="bold">c</text>
<text transform="translate(1015.00,556.60)" font-size="23.50" text-anchor="middle" fill="#1e1e1e">2</text>
<text transform="translate(1016.00,611.25)" font-size="23.50" text-anchor="middle" fill="#1e1e1e">0</text>
<text transform="translate(1022.00,665.90)" font-size="23.50" text-anchor="middle" fill="#1e1e1e">−2</text>
<text transform="translate(1022.00,720.55)" font-size="23.50" text-anchor="middle" fill="#1e1e1e">−4</text>
<text transform="translate(1022.00,775.20)" font-size="23.50" text-anchor="middle" fill="#1e1e1e">−6</text>
<text transform="translate(1022.00,829.85)" font-size="23.50" text-anchor="middle" fill="#1e1e1e">−8</text>
<text transform="translate(1029.00,884.50)" font-size="23.50" text-anchor="middle" fill="#1e1e1e">−10</text>
<text transform="translate(1072.00,711.90) rotate(-90.00)" font-size="26.60" text-anchor="middle" fill="#1e1e1e">log(TOF (s<tspan font-size="65%" dy="-0.55em">-1</tspan><tspan dy="0.357em">) - CH</tspan><tspan font-size="70%" dy="0.31em">3</tspan><tspan dy="-0.217em">OH)</tspan></text>
</g>
</svg></body></html>
